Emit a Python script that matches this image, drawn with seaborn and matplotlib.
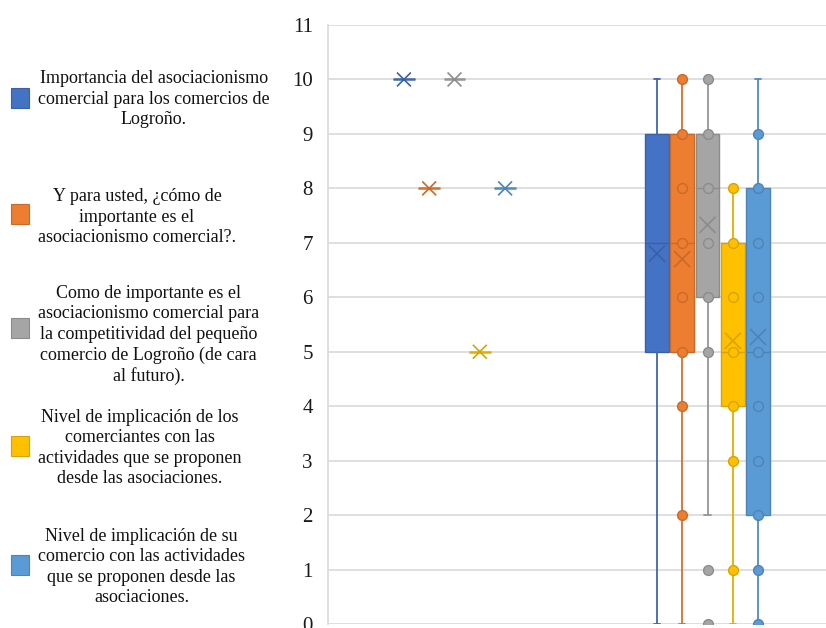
import numpy as np
import pandas as pd
import matplotlib
matplotlib.use("Agg")
import matplotlib.pyplot as plt
import matplotlib.colors as mcolors
from matplotlib.patches import Rectangle
import seaborn as sns

# ---- data -------------------------------------------------------------
series = [
    "Importancia del asociacionismo\ncomercial para los comercios de\nLogroño.",
    "Y para usted, ¿cómo de\nimportante es el\nasociacionismo comercial?.",
    "Como de importante es el\nasociacionismo comercial para\nla competitividad del pequeño\ncomercio de Logroño (de cara\nal futuro).",
    "Nivel de implicación de los\ncomerciantes con las\nactividades que se proponen\ndesde las asociaciones.",
    "Nivel de implicación de su\ncomercio con las actividades\nque se proponen desde las\nasociaciones.",
]
colors = ["#4472C4", "#ED7D31", "#A5A5A5", "#FFC000", "#5B9BD5"]

# first category: one answer per series
single_values = [10, 8, 10, 5, 8]

# second category: five-number summaries, means and plotted answers
q1 = [5, 5, 6, 4, 2]
median = [7, 7, 8, 5, 5]
q3 = [9, 9, 9, 7, 8]
whisker_low = [0, 0, 2, 0, 0]
whisker_high = [10, 10, 10, 8, 10]
means = [6.8, 6.7, 7.33, 5.2, 5.27]
points = [
    [],
    [10, 9, 8, 7, 6, 5, 4, 2],
    [10, 9, 8, 7, 6, 5, 1, 0],
    [8, 7, 6, 5, 4, 3, 1],
    [9, 8, 7, 6, 5, 4, 3, 2, 1, 0],
]
y_ticks = list(range(0, 12))

# ---- figure -----------------------------------------------------------
sns.set_style("white")
plt.rcParams["font.family"] = ["Liberation Serif", "DejaVu Serif"]

W, H = 826, 628
fig = plt.figure(figsize=(W / 100, H / 100), dpi=100)
ax_left, ax_right, ax_top, ax_bot = 328, 834, 25, 624
ax = fig.add_axes([ax_left / W, (H - ax_bot) / H,
                   (ax_right - ax_left) / W, (ax_bot - ax_top) / H])


def darker(c, f=0.82):
    r, g, b = mcolors.to_rgb(c)
    return (r * f, g * f, b * f)


offsets = np.array([-0.2, -0.1, 0.0, 0.1, 0.2])
box_w = 0.094
cap_w = 0.024

# collapsed boxes for the first category (single value each)
for i, v in enumerate(single_values):
    st = dict(med=v, q1=v, q3=v, whislo=v, whishi=v, fliers=[])
    ax.bxp([st], positions=[0 + offsets[i]], widths=[0.085], showcaps=False,
           patch_artist=True, manage_ticks=False,
           boxprops=dict(facecolor=colors[i], edgecolor=colors[i], linewidth=0.6),
           medianprops=dict(color=darker(colors[i], 0.9), linewidth=1.8, zorder=3),
           whiskerprops=dict(color=colors[i], linewidth=0.6))

# full boxes for the second category
for i in range(5):
    st = dict(med=median[i], q1=q1[i], q3=q3[i], whislo=whisker_low[i],
              whishi=whisker_high[i], fliers=[])
    ax.bxp([st], positions=[1 + offsets[i]], widths=[box_w], capwidths=[cap_w],
           patch_artist=True, manage_ticks=False,
           boxprops=dict(facecolor=colors[i], edgecolor=darker(colors[i], 0.85), linewidth=1.0),
           medianprops=dict(color=darker(colors[i], 0.85), linewidth=1.0),
           whiskerprops=dict(color=darker(colors[i], 0.9), linewidth=1.3),
           capprops=dict(color=darker(colors[i], 0.9), linewidth=1.3))

# answer markers
rows = []
for i, vals in enumerate(points):
    for v in vals:
        rows.append(dict(x=1 + offsets[i], y=v, s=i))
pts = pd.DataFrame(rows)
for i in range(5):
    sub = pts[pts.s == i]
    if len(sub):
        sns.scatterplot(data=sub, x="x", y="y", color=colors[i], s=50,
                        edgecolor=darker(colors[i], 0.85), linewidth=1.0,
                        ax=ax, zorder=4, legend=False)

# mean markers
mean_df = pd.DataFrame(dict(
    x=list(0 + offsets) + list(1 + offsets),
    y=single_values + means,
    s=list(range(5)) * 2,
    size=[100] * 5 + [135] * 5,
))
for i in range(5):
    sub = mean_df[mean_df.s == i]
    sns.scatterplot(data=sub, x="x", y="y", marker="x", size="size",
                    sizes=(100, 135), color=darker(colors[i], 0.85), linewidth=1.2,
                    ax=ax, zorder=5, legend=False)

# axes styling
ax.set_xlim(-0.5, 1.5)
ax.set_ylim(0, 11)
ax.set_yticks(y_ticks)
ax.set_xticks([])
ax.set_xlabel("")
ax.set_ylabel("")
ax.grid(axis="y", color="#D9D9D9", linewidth=1.2)
ax.set_axisbelow(True)
for side in ["top", "right", "bottom"]:
    ax.spines[side].set_visible(False)
ax.spines["left"].set_color("#D9D9D9")
ax.spines["left"].set_linewidth(1.2)
ax.tick_params(axis="y", length=0, pad=11, labelsize=15, labelcolor="#1a1a1a")
for lab in ax.get_yticklabels():
    lab.set_clip_on(False)

# legend column
legend_centers = [99, 217, 335, 448, 567]
square_centers = [98, 214, 328, 446, 565]
for i in range(5):
    yc = square_centers[i]
    fig.patches.append(Rectangle((11 / W, (H - yc - 10) / H), 18 / W, 20 / H,
                                 transform=fig.transFigure, facecolor=colors[i],
                                 edgecolor=darker(colors[i], 0.85), linewidth=0.8))
    fig.text(38 / W, (H - legend_centers[i]) / H, series[i], ha="left", va="center",
             multialignment="center", fontsize=13, linespacing=1.27, color="#111111")

fig.savefig("out.png", dpi=100)
